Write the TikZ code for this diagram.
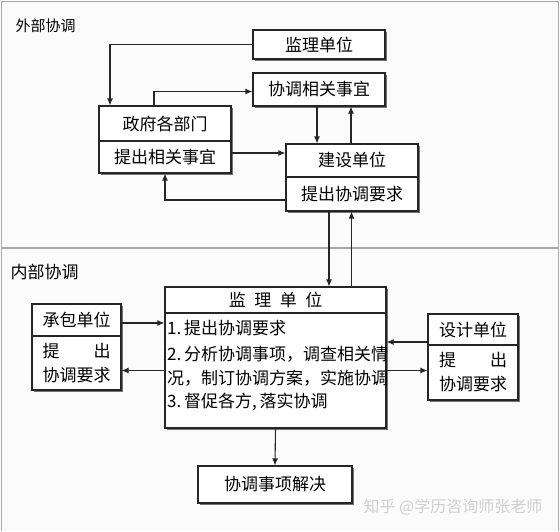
\documentclass[tikz,border=0pt]{standalone}
\usepackage{fontspec}
\setmainfont{Noto Sans CJK SC}
\usetikzlibrary{arrows.meta,shadows}
\definecolor{frame}{HTML}{A8A8A8}
\definecolor{wm}{HTML}{CFCFCF}
\definecolor{bg}{HTML}{FBFBFC}
\tikzset{
  part/.style={draw=black!85, line width=1.1pt, fill=white, inner sep=0pt,
    drop shadow={shadow xshift=1.8pt, shadow yshift=-1.8pt, fill=black!55, opacity=1},
    font=\fontsize{17}{20}\selectfont},
  arr/.style={draw=black!85, line width=1.1pt, -{Latex[length=7pt,width=6pt]}},
  grp/.style={font=\fontsize{15}{18}\selectfont, anchor=west},
  mtxt/.style={anchor=west, inner sep=0pt, font=\fontsize{17}{20}\selectfont}
}
\begin{document}
\begin{tikzpicture}[x=1pt,y=-1pt]
\useasboundingbox (0,0) rectangle (560,531);
\fill[bg] (0,0) rectangle (560,531);
% frame
\draw[frame, line width=0.9pt] (1,531) -- (1,1) -- (558,1) -- (558,531);
\draw[frame, line width=1.2pt] (1,248) -- (558,248);
\node[grp] (lblOut) at (12,26) {外部协调};
\node[grp, font=\fontsize{17}{20}\selectfont] (lblIn) at (7,272) {内部协调};

% external boxes
\node[part, minimum width=132pt, minimum height=29pt] (sup) at (319,44.5) {监理单位};
\node[part, minimum width=132pt, minimum height=33pt] (coord) at (319,89.5) {协调相关事宜};
\node[part, minimum width=132pt, minimum height=35pt] (govT) at (165,123.5) {政府各部门};
\node[part, minimum width=132pt, minimum height=32pt] (govB) at (165,157) {提出相关事宜};
\node[part, minimum width=132pt, minimum height=33pt] (bldT) at (352,160.5) {建设单位};
\node[part, minimum width=132pt, minimum height=34pt] (bldB) at (352,194) {提出协调要求};

% internal boxes
\node[part, minimum width=221pt, minimum height=26pt] (mainT) at (275.5,300) {监\hspace{0.5em}理\hspace{0.5em}单\hspace{0.5em}位};
\node[part, minimum width=221pt, minimum height=115pt] (mainB) at (275.5,370.5) {};
\node[mtxt] (m1) at (167,328) {1.\,提出协调要求};
\node[mtxt] (m2) at (167,354) {2.\,分析协调事项，调查相关情};
\node[mtxt] (m3) at (167,378) {况，制订协调方案，实施协调};
\node[mtxt] (m4) at (167,402) {3.\,督促各方,\,落实协调};

\node[part, minimum width=89pt, minimum height=32pt] (conT) at (76.5,320) {承包单位};
\node[part, minimum width=89pt, minimum height=54pt, align=center] (conB) at (76.5,363) {提\hspace{2em}出\\[4pt]协调要求};
\node[part, minimum width=90pt, minimum height=31pt] (desT) at (473,329.5) {设计单位};
\node[part, minimum width=90pt, minimum height=55pt, align=center] (desB) at (473,372.5) {提\hspace{2em}出\\[4pt]协调要求};

\node[part, minimum width=154pt, minimum height=37pt] (res) at (275,484.5) {协调事项解决};

\node[text=wm, font=\fontsize{16}{18}\selectfont, inner sep=0pt] (wmk) at (453,507) {知乎 @学历咨询师张老师};

% external connectors
\draw[arr] (sup.west) -| ([xshift=-55pt]govT.north);
\draw[arr] ([xshift=-11pt]govT.north) |- ([yshift=-2pt]coord.west);
\coordinate (c1) at ([xshift=-2pt]coord.south);
\draw[arr] (c1) -- (c1 |- bldT.north);
\coordinate (c2) at ([xshift=-1pt]bldT.north);
\draw[arr] (c2) -- (c2 |- coord.south);
\coordinate (c3) at ([yshift=4pt]govB.east);
\draw[arr] (c3) -- (c3 -| bldT.west);
\coordinate (c4) at ([yshift=-6pt]bldB.west);
\draw[arr] (c4) -| (govB.south);
\coordinate (c5) at ([xshift=-23pt]bldB.south);
\draw[arr] (c5) -- (c5 |- mainT.north);
\coordinate (c6) at ([xshift=76pt]mainT.north);
\draw[arr] (c6) -- (c6 |- bldB.south);

% internal connectors
\coordinate (c7) at ([yshift=-3pt]conT.east);
\draw[arr] (c7) -- (c7 -| mainB.west);
\draw[arr] (mainB.west) -- (mainB.west -| conB.east);
\coordinate (c8) at ([yshift=-12.5pt]desT.west);
\draw[arr] (c8) -- (c8 -| mainB.east);
\draw[arr] (mainB.east) -- (mainB.east -| desB.west);
\draw[arr] (mainB.south) -- (res.north);
\end{tikzpicture}
\end{document}
